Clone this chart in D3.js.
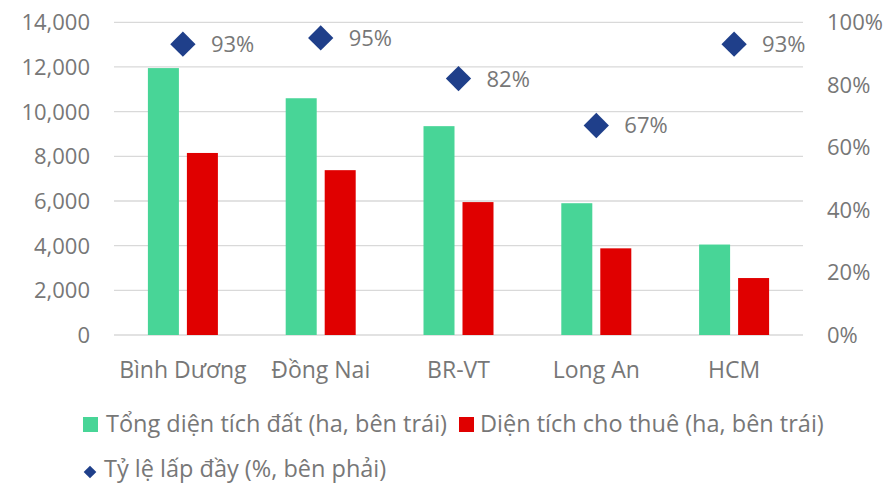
<!DOCTYPE html>
<html>
<head>
<meta charset="utf-8">
<script src="https://cdn.jsdelivr.net/npm/d3@7"></script>
<style>
  html, body { margin: 0; padding: 0; background: #fff; }
  svg text { font-family: "Open Sans", Lato, sans-serif; fill: #777; }
</style>
</head>
<body>
<div id="chart"></div>
<script>
const categories = ["Bình Dương", "Đồng Nai", "BR-VT", "Long An", "HCM"];
const totalLand = [11950, 10600, 9350, 5900, 4050];
const leasedLand = [8150, 7380, 5950, 3880, 2550];
const occupancy = [0.93, 0.95, 0.82, 0.67, 0.93];
const leftTicks = [0, 2000, 4000, 6000, 8000, 10000, 12000, 14000];
const rightTicks = [0, 0.2, 0.4, 0.6, 0.8, 1.0];
const seriesNames = ["Tổng diện tích đất (ha, bên trái)", "Diện tích cho thuê (ha, bên trái)", "Tỷ lệ lấp đầy (%, bên phải)"];

const width = 885, height = 484;
const plot = {left: 114, right: 803, top: 22.3, bottom: 335};
const green = "#48d597", red = "#e00000", navy = "#1f3f8a";
const fs = 22, catFs = 23, legFs = 23.5;

const svg = d3.select("#chart").append("svg")
  .attr("width", width).attr("height", height);

const x = d3.scaleBand().domain(categories).range([plot.left, plot.right]).padding(0);
const xSub = d3.scaleBand().domain(["total", "leased"]).range([-35, 35]).paddingInner(0.205);
const y = d3.scaleLinear().domain([0, 14000]).range([plot.bottom, plot.top]);
const y2 = d3.scaleLinear().domain([0, 1]).range([plot.bottom, plot.top]);

// grid
svg.append("g").selectAll("line").data(leftTicks).join("line")
  .attr("x1", plot.left).attr("x2", plot.right)
  .attr("y1", d => y(d)).attr("y2", d => y(d))
  .attr("stroke", "#d9d9d9").attr("stroke-width", 1.3);

// left axis
const fmt = d3.format(",");
svg.append("g").selectAll("text").data(leftTicks).join("text")
  .attr("x", 90).attr("y", d => y(d)).attr("dy", "0.36em")
  .attr("text-anchor", "end").attr("font-size", fs)
  .text(d => fmt(d));

// right axis
svg.append("g").selectAll("text").data(rightTicks).join("text")
  .attr("x", 827).attr("y", d => y2(d)).attr("dy", "0.36em")
  .attr("font-size", fs)
  .text(d => d3.format(".0%")(d));

// bars
const rows = categories.map((c, i) => ({c, total: totalLand[i], leased: leasedLand[i], occ: occupancy[i]}));
const groups = svg.append("g").selectAll("g").data(rows).join("g")
  .attr("transform", d => `translate(${x(d.c) + x.bandwidth() / 2},0)`);

groups.append("rect")
  .attr("x", xSub("total")).attr("width", xSub.bandwidth())
  .attr("y", d => y(d.total)).attr("height", d => y(0) - y(d.total))
  .attr("fill", green);
groups.append("rect")
  .attr("x", xSub("leased")).attr("width", xSub.bandwidth())
  .attr("y", d => y(d.leased)).attr("height", d => y(0) - y(d.leased))
  .attr("fill", red);

// diamonds + labels
const diamond = d3.symbol().type(d3.symbolSquare).size(320);
groups.append("path")
  .attr("d", diamond)
  .attr("transform", d => `translate(0,${y2(d.occ)}) rotate(45)`)
  .attr("fill", navy);
groups.append("text")
  .attr("x", 28).attr("y", d => y2(d.occ)).attr("dy", "0.36em")
  .attr("font-size", fs)
  .text(d => d3.format(".0%")(d.occ));

// category labels
svg.append("g").selectAll("text").data(categories).join("text")
  .attr("x", d => x(d) + x.bandwidth() / 2).attr("y", 378)
  .attr("text-anchor", "middle").attr("font-size", catFs)
  .text(d => d);

// legend
const leg = svg.append("g");
leg.append("rect").attr("x", 83).attr("y", 417).attr("width", 15).attr("height", 15).attr("fill", green);
leg.append("text").attr("x", 106).attr("y", 432).attr("font-size", legFs).text(seriesNames[0]);
leg.append("rect").attr("x", 459).attr("y", 417).attr("width", 15).attr("height", 15).attr("fill", red);
leg.append("text").attr("x", 480).attr("y", 432).attr("font-size", legFs).text(seriesNames[1]);
leg.append("path").attr("d", d3.symbol().type(d3.symbolSquare).size(80))
  .attr("transform", "translate(90,472) rotate(45)").attr("fill", navy);
leg.append("text").attr("x", 104).attr("y", 477).attr("font-size", legFs).text(seriesNames[2]);
</script>
</body>
</html>
